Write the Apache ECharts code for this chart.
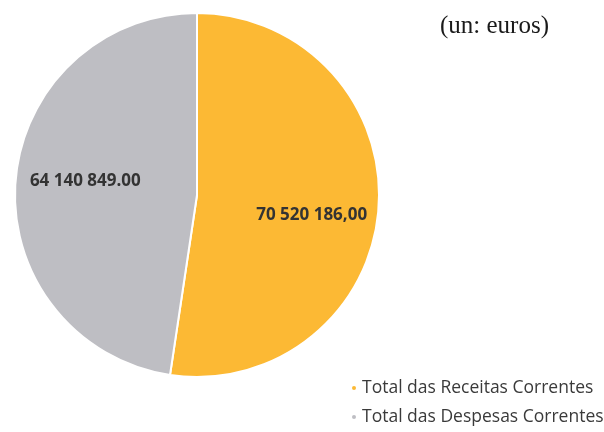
<!DOCTYPE html>
<html><head><meta charset="utf-8">
<script src="https://cdn.jsdelivr.net/npm/echarts@6/dist/echarts.min.js"></script>
<style>html,body{margin:0;padding:0;background:#fff}#c{width:604px;height:432px}</style>
</head><body><div id="c"></div>
<script>
var categories = ['Total das Receitas Correntes', 'Total das Despesas Correntes'];
var values = [70520186.00, 64140849.00];
var valueLabels = ['70 520 186,00', '64 140 849.00'];
var colors = ['#FCB934', '#BEBEC3'];
var labelShift = [[-4, 11], [7, -5]];

var chart = echarts.init(document.getElementById('c'));
var data = categories.map(function (n, i) {
  return { name: n, value: values[i], itemStyle: { color: colors[i] } };
});
var labelData = categories.map(function (n, i) {
  return { name: n, value: values[i], itemStyle: { color: 'rgba(0,0,0,0)' } };
});
chart.setOption({
  animation: false,
  title: {
    text: '(un: euros)', left: 435, top: 9,
    textStyle: { fontFamily: 'Liberation Serif', fontSize: 25, fontWeight: 'normal', color: '#1a1a1a' }
  },
  legend: {
    orient: 'vertical', left: 345, top: 374, itemGap: 11,
    icon: 'circle', itemWidth: 6, itemHeight: 6,
    data: categories,
    textStyle: { fontFamily: 'Open Sans', fontSize: 17.5, color: '#3a3a3a' }
  },
  series: [{
    type: 'pie', center: [197, 195], radius: [0, 182],
    startAngle: 90, clockwise: true,
    itemStyle: { borderColor: '#fff', borderWidth: 2 },
    label: { show: false }, labelLine: { show: false },
    data: data
  }, {
    type: 'pie', center: [197, 195], radius: [0, 232],
    startAngle: 90, clockwise: true, silent: true,
    legendHoverLink: false,
    label: {
      show: true, position: 'inside',
      fontFamily: 'Open Sans', fontWeight: 'bold', fontSize: 17, color: '#333',
      formatter: function (p) { return valueLabels[p.dataIndex]; }
    },
    labelLayout: function (p) {
      return { dx: labelShift[p.dataIndex][0], dy: labelShift[p.dataIndex][1] };
    },
    labelLine: { show: false },
    data: labelData
  }]
});
</script></body></html>
